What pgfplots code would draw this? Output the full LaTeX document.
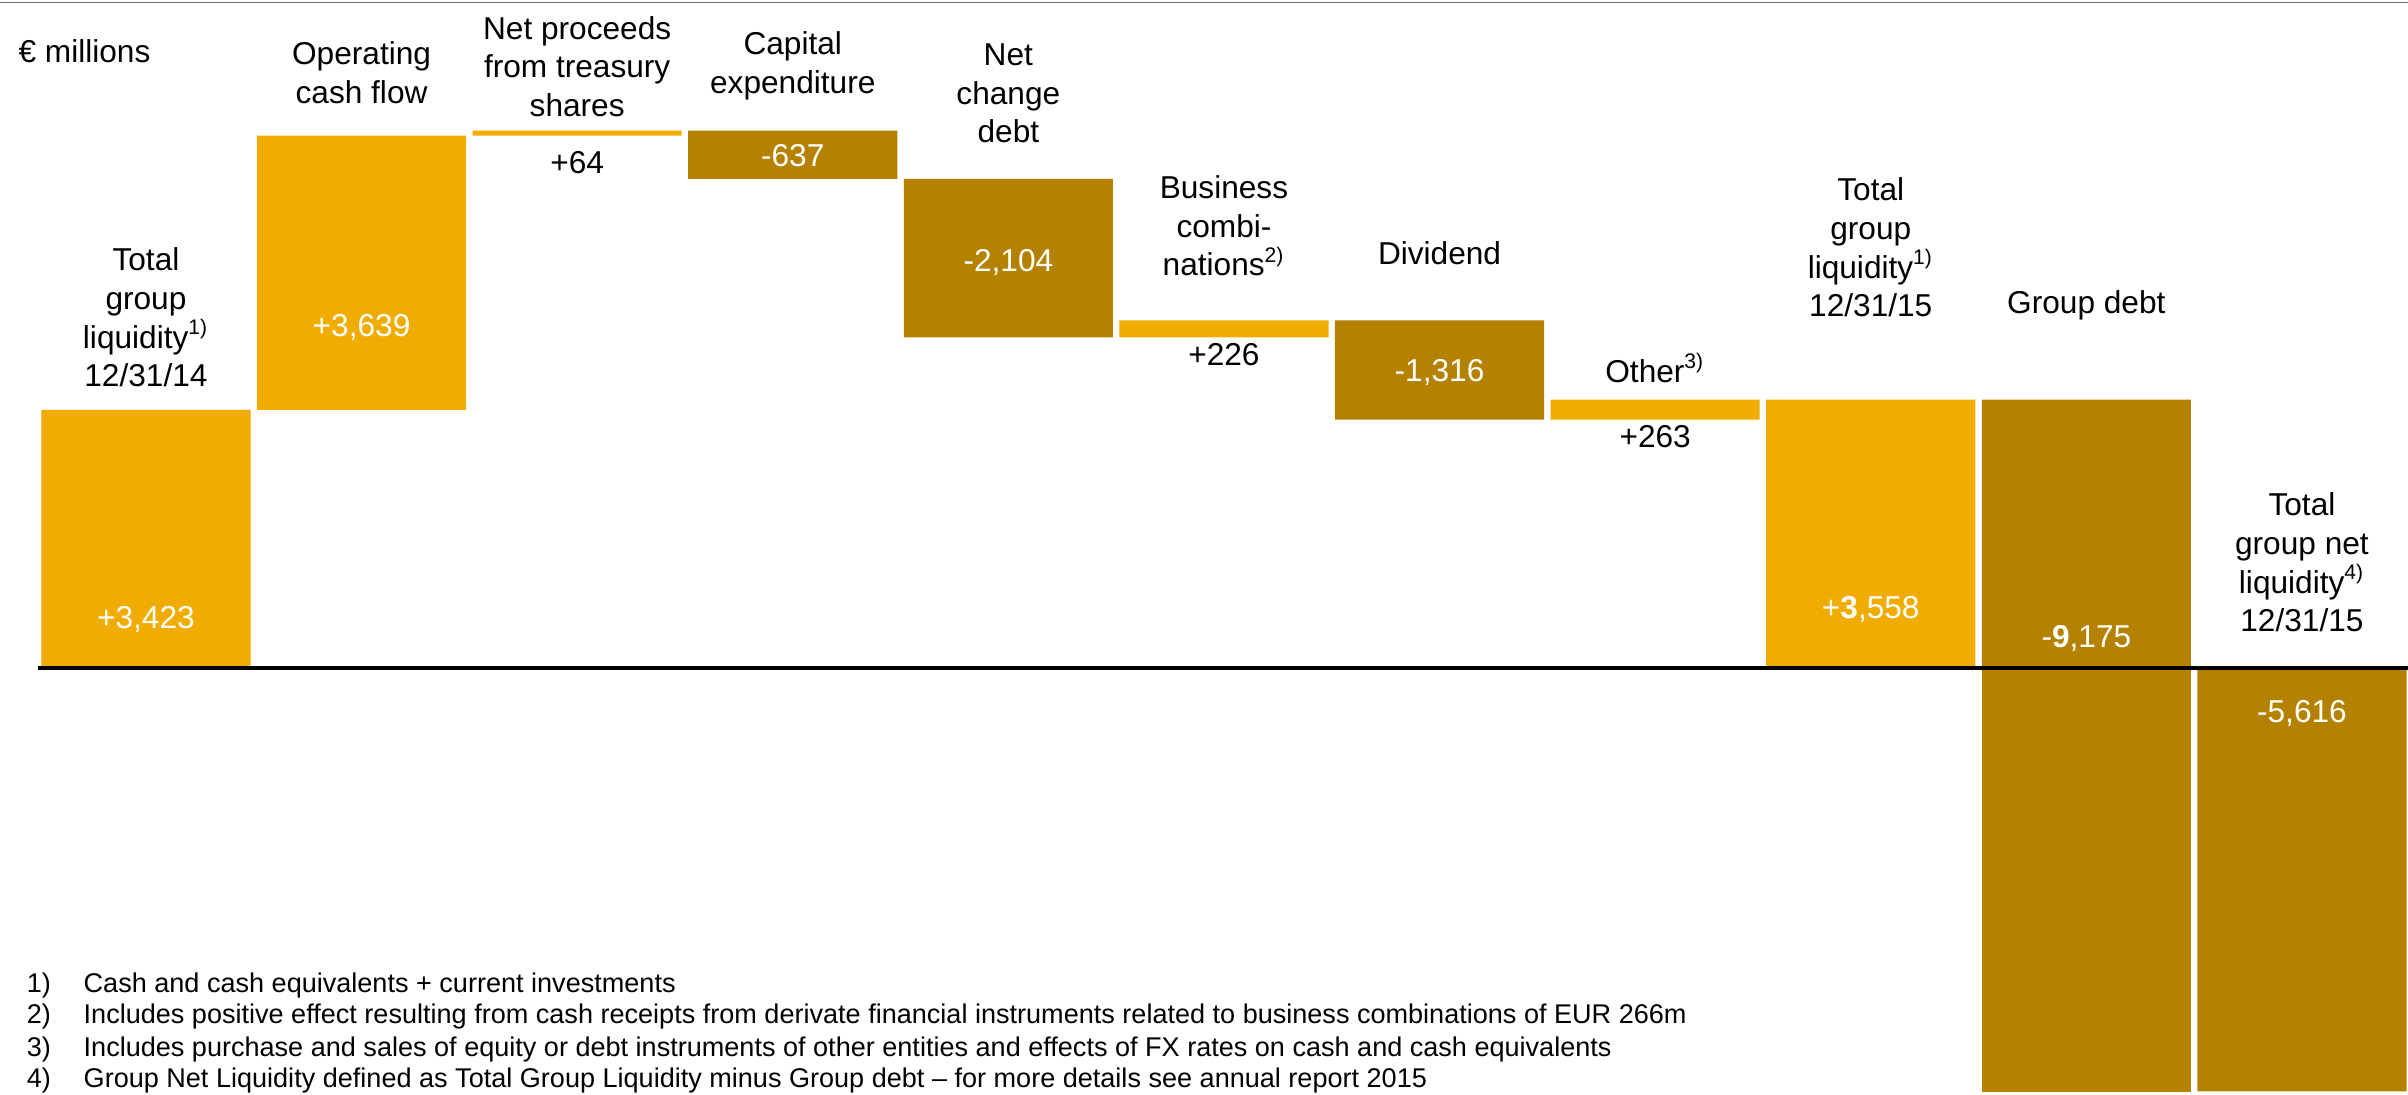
\documentclass[border=0pt]{standalone}
\usepackage{pgfplots}
\pgfplotsset{compat=1.18}
\usepackage{fontspec}
\setmainfont{Liberation Sans}
\definecolor{lgold}{RGB}{240,172,0}
\definecolor{dgold}{RGB}{181,130,0}
\definecolor{rulegrey}{RGB}{110,110,110}
\pgfplotsset{
  frame/.style={
    at={(0,0)}, anchor=south west, scale only axis,
    width=240.8mm, height=109.4mm,
    xmin=-0.677, xmax=10.492, ymin=-5650, ymax=8860,
    hide axis, clip=false,
  }
}
\begin{document}
\begin{tikzpicture}[
  lbl/.style={align=center, font=\fontsize{9}{11}\selectfont, inner sep=0pt, text=black},
  val/.style={font=\fontsize{9}{11}\selectfont, inner sep=0pt, text=white},
  bval/.style={font=\fontsize{9}{11}\selectfont, inner sep=0pt, text=black},
  fn/.style={font=\fontsize{7.7}{9}\selectfont, inner sep=0pt, anchor=west, text=black}
]
\useasboundingbox (0,0) rectangle (240.8mm,109.4mm);
\clip (0,0) rectangle (240.8mm,109.4mm);
\begin{axis}[frame, ybar stacked, bar width=0.97]
% invisible base
\addplot[draw=none, fill=none] coordinates {(0,0) (1,3423) (2,7062) (3,6489) (4,4385) (5,4385) (6,3295) (7,3295) (8,0) (9,0) (10,0)};
% increases / totals (light)
\addplot[draw=none, fill=lgold] coordinates {(0,3423) (1,3639) (2,64) (3,0) (4,0) (5,226) (6,0) (7,263) (8,3558) (9,0) (10,0)};
% decreases / debt (dark), part above zero
\addplot[draw=none, fill=dgold] coordinates {(0,0) (1,0) (2,0) (3,637) (4,2104) (5,0) (6,1316) (7,0) (8,0) (9,3558) (10,-5616)};
% group debt, part below zero (9,175 in total)
\addplot[draw=none, fill=dgold] coordinates {(0,0) (1,0) (2,0) (3,0) (4,0) (5,0) (6,0) (7,0) (8,0) (9,-5617) (10,0)};
\end{axis}
\begin{axis}[frame]
% rules
\draw[rulegrey, line width=0.17mm] (axis cs:-0.677,8827) -- (axis cs:10.492,8827);
\draw[black, line width=0.33mm] (axis cs:-0.50,0) -- (axis cs:10.492,0);

% unit
\node[lbl, anchor=west] at (axis cs:-0.594,8184) {€ millions};

% category labels
\node[lbl] at (axis cs:0,4649) {Total\\group\\liquidity\textsuperscript{1)}\\12/31/14};
\node[lbl] at (axis cs:1,7898) {Operating\\cash flow};
\node[lbl] at (axis cs:2,7978) {Net proceeds\\from treasury\\shares};
\node[lbl] at (axis cs:3,7985) {Capital\\expenditure};
\node[lbl] at (axis cs:4,7620) {Net\\change\\debt};
\node[lbl] at (axis cs:5,5863) {Business\\combi-\\nations\textsuperscript{2)}};
\node[lbl] at (axis cs:6,5504) {Dividend};
\node[lbl] at (axis cs:7,3979) {Other\textsuperscript{3)}};
\node[lbl] at (axis cs:8,5577) {Total\\group\\liquidity\textsuperscript{1)}\\12/31/15};
\node[lbl] at (axis cs:9,4815) {Group debt};
\node[lbl] at (axis cs:10,1400) {Total\\group net\\liquidity\textsuperscript{4)}\\12/31/15};

% values
\node[val] at (axis cs:0,637) {+3,423};
\node[val] at (axis cs:1,4523) {+3,639};
\node[bval] at (axis cs:2,6698) {+64};
\node[val] at (axis cs:3,6791) {-637};
\node[val] at (axis cs:4,5385) {-2,104};
\node[bval] at (axis cs:5,4152) {+226};
\node[val] at (axis cs:6,3913) {-1,316};
\node[bval] at (axis cs:7,3064) {+263};
\node[val] at (axis cs:8,770) {+\textbf{3},558};
\node[val] at (axis cs:9,385) {-\textbf{9},175};
\node[val] at (axis cs:10,-597) {-5,616};

% footnotes
\node[fn] at (axis cs:-0.556,-4217) {1)};
\node[fn] at (axis cs:-0.292,-4217) {Cash and cash equivalents + current investments};
\node[fn] at (axis cs:-0.556,-4628) {2)};
\node[fn] at (axis cs:-0.292,-4628) {Includes positive effect resulting from cash receipts from derivate financial instruments related to business combinations of EUR 266m};
\node[fn] at (axis cs:-0.556,-5066) {3)};
\node[fn] at (axis cs:-0.292,-5066) {Includes purchase and sales of equity or debt instruments of other entities and effects of FX rates on cash and cash equivalents};
\node[fn] at (axis cs:-0.556,-5477) {4)};
\node[fn] at (axis cs:-0.292,-5477) {Group Net Liquidity defined as Total Group Liquidity minus Group debt -- for more details see annual report 2015};
\end{axis}
\end{tikzpicture}
\end{document}
